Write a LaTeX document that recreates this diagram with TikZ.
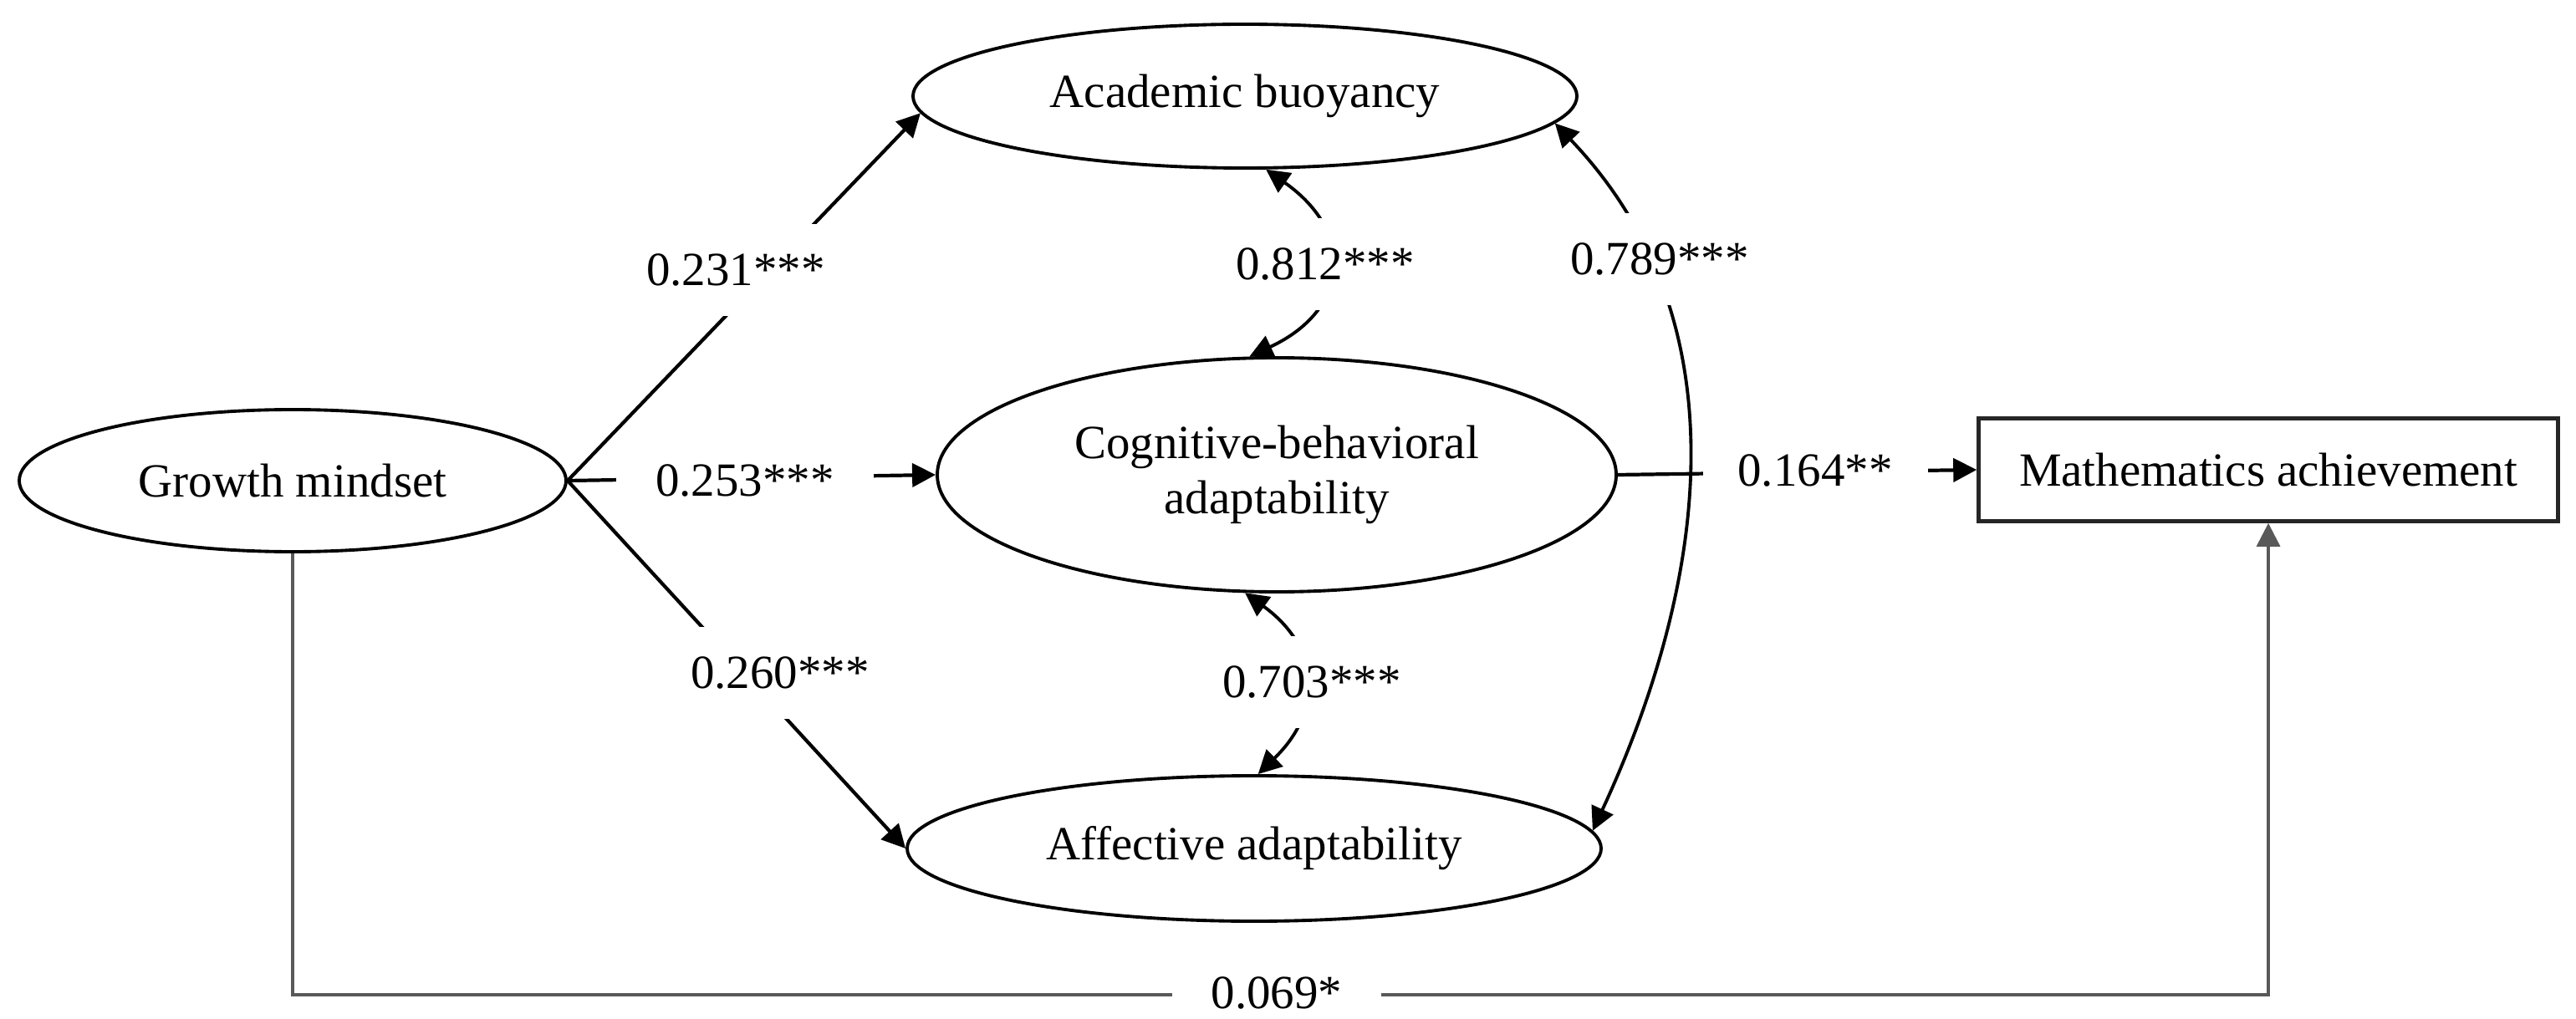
\documentclass[tikz,border=0pt]{standalone}
\usepackage{fontspec}
\setmainfont{Liberation Serif}
\usetikzlibrary{arrows.meta,shapes.geometric}
\begin{document}
\begin{tikzpicture}[
  every node/.style={font=\fontsize{16.2}{19}\selectfont},
  tip/.tip={Triangle[length=0.28cm,width=0.28cm]},
  lat/.style={draw, ellipse, line width=1.1pt, inner sep=0pt, align=center},
  obs/.style={draw=black!85, rectangle, line width=1.3pt, inner sep=0pt},
  arr/.style={line width=1.2pt, -tip},
  dbl/.style={line width=1.1pt, tip-tip},
  coef/.style={fill=white, inner xsep=0.47cm, inner ysep=0.36cm},
  direct/.style={line width=0.9pt, black!65, -tip}
]
\useasboundingbox (0,0) rectangle (30.81,-12.19);

% latent and observed variables
\node[lat, minimum width=6.54cm, minimum height=1.70cm] (gm) at (3.50,-5.75) {Growth mindset};
\node[lat, minimum width=7.94cm, minimum height=1.72cm] (ab) at (14.89,-1.15) {Academic buoyancy};
\node[lat, minimum width=8.12cm, minimum height=2.80cm] (cb) at (15.27,-5.68) {Cognitive-behavioral\\adaptability};
\node[lat, minimum width=8.30cm, minimum height=1.74cm] (af) at (15.00,-10.15) {Affective adaptability};
\node[obs, minimum width=6.93cm, minimum height=1.23cm] (ma) at (27.13,-5.62) {Mathematics achievement};

% paths
\draw[arr] (gm.east) -- (ab.183);
\draw[arr] (gm.east) -- (cb.west);
\draw[arr] (gm.east) -- (af.west);
\draw[dbl] (ab.-74) to[bend left=60, looseness=1.5] (cb.103);
\draw[dbl] (cb.-105) to[bend left=50, looseness=1.3] (af.87);
\draw[dbl] (ab.-5) .. controls (20.96,-3.95) and (20.32,-7.19) .. (af.3);
\draw[arr] (cb.east) -- (ma.west);
\coordinate (bot) at (15.00,-11.90);
\draw[direct] (gm.south) |- (bot) -| (ma.south);

% coefficients
\node[coef] (l231) at (8.80,-3.23) {0.231***};
\node[coef] (l253) at (8.91,-5.75) {0.253***};
\node[coef] (l260) at (9.33,-8.05) {0.260***};
\node[coef] (l812) at (15.85,-3.16) {0.812***};
\node[coef] (l703) at (15.69,-8.16) {0.703***};
\node[coef] (l789) at (19.85,-3.10) {0.789***};
\node[coef, inner xsep=0.42cm] (l164) at (21.71,-5.63) {0.164**};
\node[coef, inner ysep=0.12cm] (l069) at (15.27,-11.88) {0.069*};
\end{tikzpicture}
\end{document}
